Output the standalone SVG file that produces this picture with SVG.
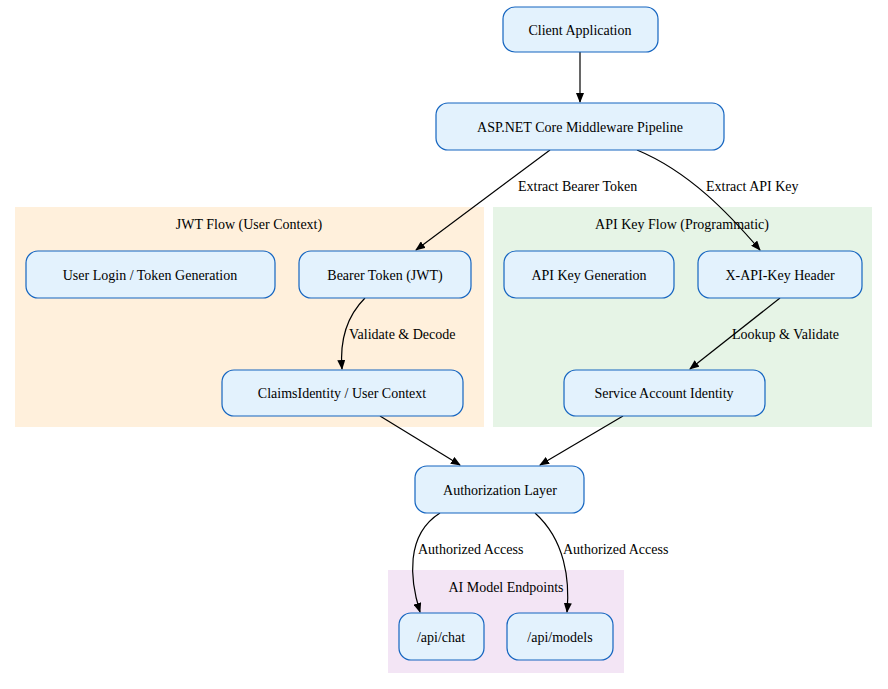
<svg xmlns="http://www.w3.org/2000/svg" width="888" height="689" viewBox="0 0 888 689">
<style>
text{font-family:"Liberation Serif","Times New Roman",serif;font-size:14px;fill:#000}
.n rect{fill:#e3f2fd;stroke:#1565c0;stroke-width:1.2}
.n text{text-anchor:middle}
.e path{fill:none;stroke:#000;stroke-width:1.2}
.c text{text-anchor:middle}
</style>
<defs><marker id="a" markerWidth="10" markerHeight="8" refX="9" refY="4" orient="auto" markerUnits="userSpaceOnUse"><path d="M0,0L10,4L0,8z" fill="#000"/></marker></defs>
<rect width="888" height="689" fill="#fff"/>
<g class="c" id="cluster_jwt"><rect x="15" y="207" width="469" height="220" fill="#fff0dc"/><text x="249" y="229">JWT Flow (User Context)</text></g>
<g class="c" id="cluster_api"><rect x="493" y="207" width="379" height="220" fill="#e6f4e6"/><text x="682" y="229">API Key Flow (Programmatic)</text></g>
<g class="c" id="cluster_ai"><rect x="388" y="570" width="236" height="103" fill="#f3e5f5"/><text x="506" y="592">AI Model Endpoints</text></g>
<g class="e" id="edges">
<path d="M580,52L580,102" marker-end="url(#a)"/>
<path d="M550,150L416,250" marker-end="url(#a)"/>
<text x="518" y="191">Extract Bearer Token</text>
<path d="M637,150C690,172 730,215 760,250" marker-end="url(#a)"/>
<text x="706" y="191">Extract API Key</text>
<path d="M365,298C345,318 340,345 342,369" marker-end="url(#a)"/>
<text x="349" y="339">Validate &amp; Decode</text>
<path d="M780,298L690,369" marker-end="url(#a)"/>
<text x="732" y="339">Lookup &amp; Validate</text>
<path d="M380,416L460,465" marker-end="url(#a)"/>
<path d="M623,416L540,465" marker-end="url(#a)"/>
<path d="M440,513C405,535 410,580 420,612" marker-end="url(#a)"/>
<text x="418" y="554">Authorized Access</text>
<path d="M535,513C565,540 570,580 567,612" marker-end="url(#a)"/>
<text x="563" y="554">Authorized Access</text>
</g>
<g class="n" id="client"><rect x="503" y="7" width="155" height="45" rx="12"/><text x="580" y="35">Client Application</text></g>
<g class="n" id="aspnet"><rect x="436" y="103" width="288" height="47" rx="12"/><text x="580" y="132">ASP.NET Core Middleware Pipeline</text></g>
<g class="n" id="login"><rect x="26" y="251" width="249" height="47" rx="12"/><text x="150" y="280">User Login / Token Generation</text></g>
<g class="n" id="bearer"><rect x="299" y="251" width="172" height="47" rx="12"/><text x="385" y="280">Bearer Token (JWT)</text></g>
<g class="n" id="claims"><rect x="222" y="370" width="241" height="46" rx="12"/><text x="342" y="398">ClaimsIdentity / User Context</text></g>
<g class="n" id="apikeygen"><rect x="504" y="251" width="170" height="47" rx="12"/><text x="589" y="280">API Key Generation</text></g>
<g class="n" id="xapikey"><rect x="698" y="251" width="164" height="47" rx="12"/><text x="780" y="280">X-API-Key Header</text></g>
<g class="n" id="service"><rect x="564" y="370" width="201" height="46" rx="12"/><text x="664" y="398">Service Account Identity</text></g>
<g class="n" id="authz"><rect x="415" y="466" width="169" height="47" rx="12"/><text x="500" y="495">Authorization Layer</text></g>
<g class="n" id="chat"><rect x="399" y="613" width="85" height="47" rx="12"/><text x="441" y="642">/api/chat</text></g>
<g class="n" id="models"><rect x="507" y="613" width="106" height="47" rx="12"/><text x="560" y="642">/api/models</text></g>
</svg>
